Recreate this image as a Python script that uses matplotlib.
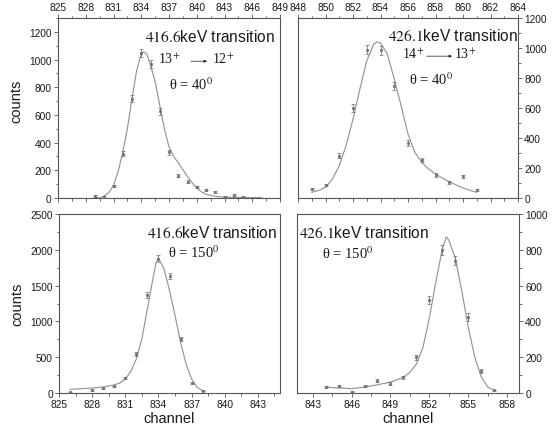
import matplotlib
matplotlib.use("Agg")
import matplotlib.pyplot as plt
from matplotlib.ticker import MultipleLocator

plt.rcParams['font.family'] = ['Liberation Sans', 'DejaVu Sans']
plt.rcParams['mathtext.fontset'] = 'stix'

# ---------------- data ----------------
# top-left: 416.6 keV, theta = 40
tl_ch = [829, 830, 831, 832, 833, 834, 835, 836, 837, 838, 839, 840, 841, 842, 843, 844, 845]
tl_cnt = [15, 7, 88, 320, 718, 1048, 968, 627, 330, 162, 116, 78, 55, 42, 8, 22, 10]
tl_err = [6, 4, 9, 18, 27, 30, 31, 25, 18, 13, 11, 9, 7, 6, 3, 5, 3]
tl_fit_x = [829, 829.5, 830, 830.5, 831, 831.5, 832, 832.5, 833, 833.5, 834, 834.3, 834.6, 835,
            835.5, 836, 836.5, 837, 837.5, 838, 838.5, 839, 839.5, 840, 840.5, 841, 842, 843, 844, 845, 846, 847]
tl_fit_y = [5, 0, 15, 40, 90, 190, 330, 500, 720, 920, 1045, 1055, 1040, 960,
            840, 670, 500, 370, 300, 255, 205, 155, 110, 72, 45, 27, 12, 6, 4, 3, 3, 3]

# top-right: 426.1 keV, theta = 40
tr_ch = [849, 850, 851, 852, 853, 854, 855, 856, 857, 858, 859, 860, 861]
tr_cnt = [60, 87, 282, 600, 990, 985, 744, 366, 253, 155, 104, 144, 51]
tr_err = [8, 9, 16, 24, 31, 31, 27, 19, 15, 12, 10, 12, 7]
tr_fit_x = [849, 849.5, 850, 850.5, 851, 851.5, 852, 852.5, 853, 853.5, 853.75, 854, 854.5,
            855, 855.5, 856, 856.5, 857, 857.5, 858, 858.5, 859, 859.5, 860, 860.5, 861]
tr_fit_y = [38, 50, 71, 126, 215, 350, 526, 726, 915, 1025, 1041, 1032, 960,
            793, 615, 426, 304, 238, 193, 160, 133, 109, 87, 67, 51, 38]

# bottom-left: 416.6 keV, theta = 150
bl_ch = [826, 828, 829, 830, 831, 832, 833, 834, 835, 836, 837, 838]
bl_cnt = [10, 42, 65, 93, 210, 546, 1364, 1877, 1630, 757, 140, 33]
bl_err = [4, 8, 9, 11, 16, 25, 40, 45, 42, 28, 13, 7]
bl_fit_x = [826, 827, 828, 829, 830, 830.5, 831, 831.5, 832, 832.5, 833, 833.5, 833.8, 834,
            834.5, 835, 835.5, 836, 836.5, 837, 837.5, 838]
bl_fit_y = [51, 60, 70, 84, 112, 140, 196, 300, 476, 757, 1177, 1597, 1830, 1880,
            1737, 1434, 1083, 710, 406, 196, 79, 33]

# bottom-right: 426.1 keV, theta = 150
br_ch = [844, 845, 846, 847, 848, 849, 850, 851, 852, 853, 854, 855, 856, 857]
br_cnt = [33, 39, 6, 39, 68, 52, 88, 199, 521, 800, 740, 425, 122, 15]
br_err = [6, 6, 3, 6, 8, 7, 9, 14, 23, 28, 27, 21, 11, 4]
br_fit_x = [844, 845, 846, 847, 848, 849, 849.5, 850, 850.5, 851, 851.5, 852, 852.5, 853,
            853.3, 853.5, 854, 854.5, 855, 855.5, 856, 856.5, 857]
br_fit_y = [33, 28, 24, 33, 46, 61, 74, 88, 116, 162, 254, 420, 623, 807,
            872, 853, 752, 567, 365, 199, 88, 33, 15]

tl_xticks = [825, 828, 831, 834, 837, 840, 843, 846, 849]
tr_xticks = [848, 850, 852, 854, 856, 858, 860, 862, 864]
bl_xticks = [825, 828, 831, 834, 837, 840, 843]
br_xticks = [843, 846, 849, 852, 855, 858]

# ---------------- styling ----------------
W, H = 557, 431
fig = plt.figure(figsize=(W / 100, H / 100), dpi=100)

SPINE = '#555555'
LINE = '#959595'
PT = '#707070'
TXT = '#1a1a1a'
SERIF = ['Liberation Serif', 'DejaVu Serif']


def make_ax(l, t, r, b):
    return fig.add_axes([l / W, 1 - b / H, (r - l) / W, (b - t) / H])


ax_tl = make_ax(58, 19, 280, 199)
ax_tr = make_ax(298, 19, 518, 199)
ax_bl = make_ax(59, 215, 280, 394)
ax_br = make_ax(297, 215, 519, 394)

panels = [
    (ax_tl, tl_ch, tl_cnt, tl_err, tl_fit_x, tl_fit_y, (825, 849), (0, 1300), tl_xticks, 1.5, 200, 100, 'top', 'left', 0.54),
    (ax_tr, tr_ch, tr_cnt, tr_err, tr_fit_x, tr_fit_y, (848, 864), (0, 1200), tr_xticks, 1, 200, 100, 'top', 'right', 0.5),
    (ax_bl, bl_ch, bl_cnt, bl_err, bl_fit_x, bl_fit_y, (825, 845), (0, 2500), bl_xticks, 1.5, 500, 250, 'bottom', 'left', 0.5),
    (ax_br, br_ch, br_cnt, br_err, br_fit_x, br_fit_y, (841.8, 858.9), (0, 1000), br_xticks, 1.5, 200, 100, 'bottom', 'right', 0.5),
]

for (ax, ch, cnt, err, fx, fy, xl, yl, xt, xminor, ymaj, ymin, xpos, ypos, ylab_y) in panels:
    ax.plot(fx, fy, color=LINE, lw=0.85, zorder=2)
    ax.errorbar(ch, cnt, yerr=err, fmt='s', ms=1.5, color=PT, ecolor=PT,
                elinewidth=0.55, capsize=1.5, capthick=0.55, mew=0.5, zorder=3)
    ax.set_xlim(*xl)
    ax.set_ylim(*yl)
    ax.set_xticks(xt)
    ax.xaxis.set_minor_locator(MultipleLocator(xminor))
    ax.yaxis.set_major_locator(MultipleLocator(ymaj))
    ax.yaxis.set_minor_locator(MultipleLocator(ymin))
    for s in ax.spines.values():
        s.set_color(SPINE)
        s.set_linewidth(0.8)
    ax.tick_params(which='both', direction='out', colors=SPINE, labelcolor=TXT,
                   labelsize=7.3, width=0.6, pad=1.5)
    ax.tick_params(which='major', length=3)
    ax.tick_params(which='minor', length=1.8)
    if xpos == 'top':
        ax.tick_params(axis='x', which='both', top=True, bottom=True, labeltop=True, labelbottom=False)
    else:
        ax.tick_params(axis='x', which='both', top=False, bottom=True, labeltop=False, labelbottom=True)
        ax.set_xlabel('channel', fontsize=10.5, color=TXT, labelpad=1)
    if ypos == 'right':
        ax.tick_params(axis='y', which='both', left=False, right=True, labelleft=False, labelright=True)
    else:
        ax.tick_params(axis='y', which='both', left=True, right=False, labelleft=True, labelright=False)
        ax.set_ylabel('counts', fontsize=10.5, color=TXT)
        ax.yaxis.set_label_coords(-0.158, ylab_y)

TFS = 11.2
SFS = 10.5
LFS = 10


def title(ax, x, y, num, ha='left'):
    ax.text(x, y, r'$\mathrm{' + num + '}$keV transition', transform=ax.transAxes,
            fontsize=TFS, color=TXT, ha=ha, va='center')


def levels(ax, x1, xa0, xa1, x2, y, a, b):
    ax.text(x1, y, a + r'$^{+}$', transform=ax.transAxes, family=SERIF,
            fontsize=LFS, color=TXT, ha='left', va='center')
    ax.annotate('', xy=(xa1, y - 0.012), xytext=(xa0, y - 0.012), xycoords='axes fraction',
                arrowprops=dict(arrowstyle='-|>', lw=0.5, color=TXT, mutation_scale=4,
                                shrinkA=0, shrinkB=0))
    ax.text(x2, y, b + r'$^{+}$', transform=ax.transAxes, family=SERIF,
            fontsize=LFS, color=TXT, ha='left', va='center')


def theta(ax, x, y, ang):
    ax.text(x, y, '\u03b8 = ' + ang + r'$^{0}$', transform=ax.transAxes, family=SERIF,
            fontsize=SFS, color=TXT, ha='left', va='center')


title(ax_tl, 0.39, 0.9, '416.6')
levels(ax_tl, 0.45, 0.599, 0.671, 0.694, 0.772, '13', '12')
theta(ax_tl, 0.499, 0.633, '40')

title(ax_tr, 1.0, 0.905, '426.1', ha='right')
levels(ax_tr, 0.4727, 0.585, 0.70, 0.709, 0.80, '14', '13')
theta(ax_tr, 0.505, 0.661, '40')

title(ax_bl, 0.398, 0.9, '416.6')
theta(ax_bl, 0.493, 0.788, '150')

title(ax_br, 0.009, 0.9, '426.1')
theta(ax_br, 0.113, 0.782, '150')

fig.savefig('out.png', dpi=100)
